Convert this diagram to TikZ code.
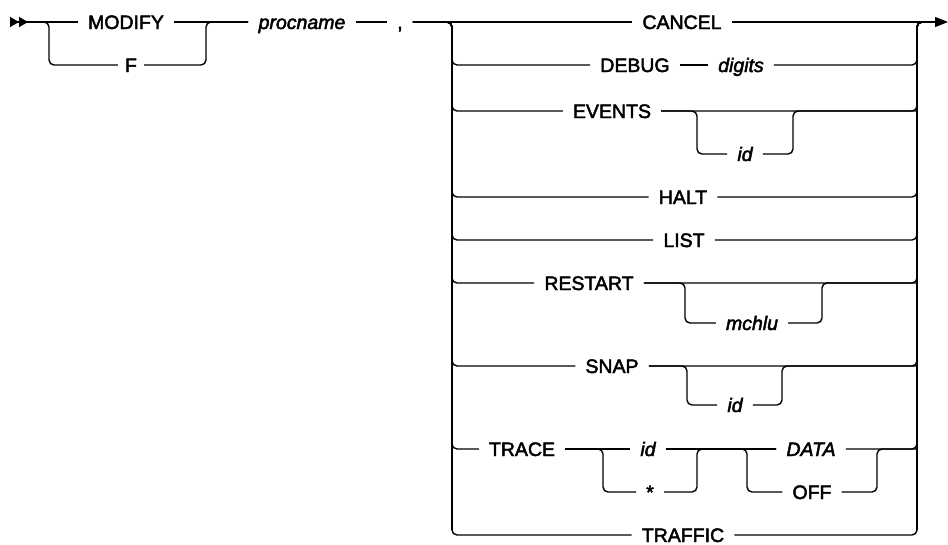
\documentclass[tikz,border=0pt]{standalone}
\usepackage{fontspec}
\setmainfont{Liberation Sans}[UprightFeatures={FakeBold=2.4}, ItalicFeatures={FakeBold=2.4}]
\usetikzlibrary{arrows.meta}
\tikzset{
  kw/.style={font=\fontsize{19.5}{20}\selectfont, inner xsep=10pt, inner ysep=0pt,
             text height=14pt, text depth=0pt},
  var/.style={kw, font=\fontsize{19.5}{20}\selectfont\itshape},
  rail/.style={line width=1.4pt, rounded corners=5pt},
  bar/.style={line width=2pt},
  startmark/.style={{Triangle[reversed,length=9pt,width=10pt]Triangle[reversed,length=9pt,width=10pt]}-},
  endmark/.style={-{Triangle[length=13pt,width=10pt]}},
}

\begin{document}
\begin{tikzpicture}[x=1pt, y=-1pt]
  \useasboundingbox (0,0) rectangle (948,544);
  % junctions of the rails
  \coordinate (st) at (10,22);
  \coordinate (aL) at (49,22);
  \coordinate (aR) at (206,22);
  \coordinate (bL) at (452,22);
  \coordinate (bR) at (917,22);
  \coordinate (bLb) at (452,535);
  \coordinate (bRb) at (917,535);
  \coordinate (bRo) at (930,22);
  \coordinate (fin) at (948,22);
  \coordinate (evL) at (697,111);
  \coordinate (evR) at (793,111);
  \coordinate (reL) at (685,283);
  \coordinate (reR) at (822,283);
  \coordinate (snL) at (687,366);
  \coordinate (snR) at (782,366);
  \coordinate (trL) at (603,449);
  \coordinate (trM) at (697,449);
  \coordinate (daL) at (747,449);
  \coordinate (daR) at (877,449);

  % command name
  \node[kw] (modify) at (126,22) {MODIFY};
  \node[kw, inner xsep=7pt] (f) at (131,65) {F};
  \node[var] (procname) at (302,22) {procname};
  \node[kw] (comma) at (400,22) {,};

  % operands
  \node[kw] (cancel) at (682,22) {CANCEL};
  \node[kw] (debug) at (635,65) {DEBUG};
  \node[var] (digits) at (741,65) {digits};
  \node[kw] (events) at (612,111) {EVENTS};
  \node[var] (evid) at (745,154) {id};
  \node[kw] (halt) at (683,197) {HALT};
  \node[kw] (list) at (684,240) {LIST};
  \node[kw] (restart) at (589,283) {RESTART};
  \node[var] (mchlu) at (752,323) {mchlu};
  \node[kw] (snap) at (612,366) {SNAP};
  \node[var] (snid) at (735,405) {id};
  \node[kw] (trace) at (522,449) {TRACE};
  \node[var] (trid) at (648,449) {id};
  \node[kw] (star) at (650,492) {*};
  \node[var] (data) at (811,449) {DATA};
  \node[kw] (off) at (812,492) {OFF};
  \node[kw] (traffic) at (683,535) {TRAFFIC};

  % MODIFY | F
  \draw[rail, startmark] (st) -- (modify.west);
  \draw[rail] (st) -- (aL) |- (f.west);
  \draw[rail] (modify.east) -- (procname.west);
  \draw[rail] (f.east) -| (aR) -- (procname.west);
  \draw[rail] (procname.east) -- (comma.west);

  % operand choice
  \draw[rail] (comma.east) -- (cancel.west);
  \draw[rail, endmark] (cancel.east) -- (fin);
  \foreach \a/\b in {debug/digits, events/events, halt/halt, list/list,
                     restart/restart, snap/snap, trace/data, traffic/traffic} {
    \draw[rail] (comma.east) -- (bL) |- (\a.west);
    \draw[rail] (\b.east) -| (bR) -- (bRo);
  }
  \draw[bar] ([yshift=-5pt]bL) -- ([yshift=5pt]bLb);
  \draw[bar] ([yshift=-5pt]bR) -- ([yshift=5pt]bRb);
  \draw[rail] (debug.east) -- (digits.west);

  % optional parts
  \draw[rail] (events.east) -- (evL) |- (evid.west);
  \draw[rail] (evid.east) -| (evR) -- (events -| bR);
  \draw[rail] (restart.east) -- (reL) |- (mchlu.west);
  \draw[rail] (mchlu.east) -| (reR) -- (restart -| bR);
  \draw[rail] (snap.east) -- (snL) |- (snid.west);
  \draw[rail] (snid.east) -| (snR) -- (snap -| bR);

  % TRACE id|* DATA|OFF
  \draw[rail] (trace.east) -- (trid.west);
  \draw[rail] (trid.east) -- (data.west);
  \draw[rail] (trace.east) -- (trL) |- (star.west);
  \draw[rail] (star.east) -| (trM) -- (data.west);
  \draw[rail] (trid.east) -- (daL) |- (off.west);
  \draw[rail] (off.east) -| (daR) -- (trace -| bR);
\end{tikzpicture}
\end{document}
